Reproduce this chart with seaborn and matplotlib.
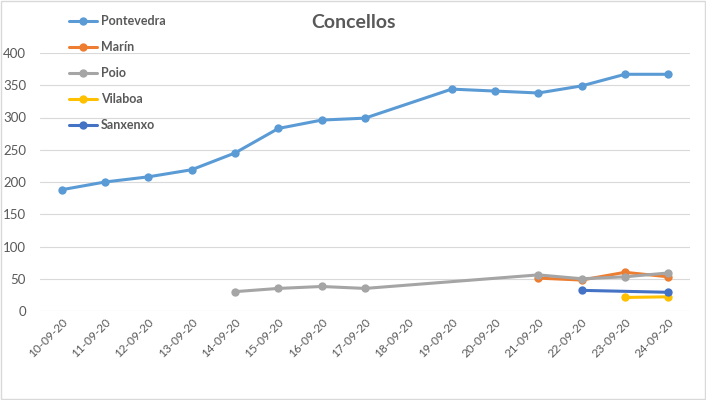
import numpy as np
import pandas as pd
import matplotlib
matplotlib.use("Agg")
import matplotlib.pyplot as plt
import seaborn as sns
from matplotlib.patches import Rectangle

# Data (NaN = no value that day)
dates = ["10-09-20", "11-09-20", "12-09-20", "13-09-20", "14-09-20", "15-09-20",
         "16-09-20", "17-09-20", "18-09-20", "19-09-20", "20-09-20", "21-09-20",
         "22-09-20", "23-09-20", "24-09-20"]
nan = np.nan
pontevedra = [188, 200, 208, 219, 245, 283, 296, 299, nan, 344, 341, 338, 349, 367, 367]
marin = [nan] * 11 + [51, 48, 60, 53]
poio = [nan, nan, nan, nan, 30, 35, 38, 35, nan, nan, nan, 56, 50, 53, 59]
vilaboa = [nan] * 13 + [21, 22]
sanxenxo = [nan] * 12 + [32, nan, 29]

series = {"Pontevedra": pontevedra, "Marín": marin, "Poio": poio,
          "Vilaboa": vilaboa, "Sanxenxo": sanxenxo}
colors = ["#5B9BD5", "#ED7D31", "#A5A5A5", "#FFC000", "#4472C4"]

# long form, gaps dropped so lines connect across missing days (like Excel)
rows = []
for name, vals in series.items():
    for i, v in enumerate(vals):
        if not np.isnan(v):
            rows.append({"pos": i, "value": v, "serie": name})
df = pd.DataFrame(rows)

sns.set_style("white")
plt.rcParams["font.family"] = ["Lato", "DejaVu Sans"]

fig = plt.figure(figsize=(7.06, 4.0), dpi=100)
ax = fig.add_axes([40 / 706, 1 - 311 / 400, 650 / 706, 258 / 400])

sns.lineplot(data=df, x="pos", y="value", hue="serie", hue_order=list(series),
             palette=colors, marker="o", markersize=6, markeredgewidth=0,
             linewidth=2.2, ax=ax, legend=False)

ax.set_xlim(-0.5, len(dates) - 0.5)
ax.set_ylim(0, 400)
ax.set_yticks(range(0, 401, 50))
ax.set_xticks(range(len(dates)))
ax.set_xticklabels(dates, rotation=45, ha="right", rotation_mode="anchor")
ax.tick_params(axis="x", labelsize=8.5, colors="#595959", length=0, pad=4)
ax.tick_params(axis="y", labelsize=9.5, colors="#595959", length=0, pad=10)
ax.set_xlabel("")
ax.set_ylabel("")
ax.grid(axis="y", color="#D9D9D9", linewidth=0.8)
ax.set_axisbelow(True)
for s in ax.spines.values():
    s.set_visible(False)

fig.text(0.5, 1 - 23 / 400, "Concellos", ha="center", va="center",
         fontsize=14, fontweight="bold", color="#595959")

handles = [plt.Line2D([], [], color=c, linewidth=2.2, marker="o", markersize=6,
                      markeredgewidth=0) for c in colors]
leg = fig.legend(handles, list(series), loc="upper left",
                 bbox_to_anchor=(58 / 706, 1 - 4 / 400), frameon=False,
                 handlelength=2.2, handletextpad=0.35, labelspacing=1.12,
                 prop={"size": 9, "weight": "bold"})
for t in leg.get_texts():
    t.set_color("#595959")

fig.patches.append(Rectangle((0.001, 0.003), 0.997, 0.994, transform=fig.transFigure,
                             fill=False, edgecolor="#D9D9D9", linewidth=1))

fig.savefig("out.png", dpi=100)
